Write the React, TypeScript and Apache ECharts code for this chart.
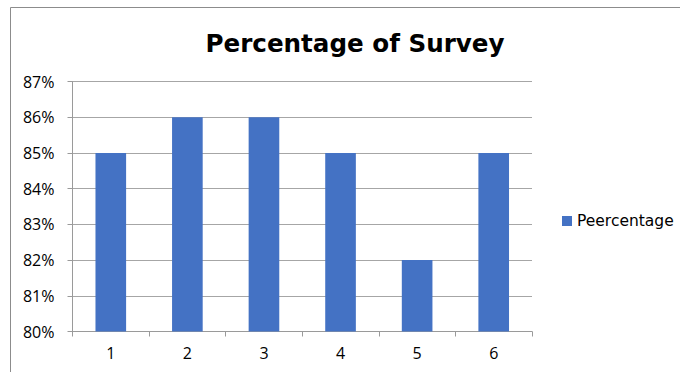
import React, { useEffect, useRef } from "react";
import * as echarts from "echarts";

const categories = ["1", "2", "3", "4", "5", "6"];
const seriesName = "Peercentage";
const percentValues = [85, 86, 86, 85, 82, 85];
const yTicks = { min: 80, max: 87, interval: 1 };
const titleText = "Percentage of Survey";

export default function App() {
  const ref = useRef<HTMLDivElement>(null);
  useEffect(() => {
    if (!ref.current) return;
    const chart = echarts.init(ref.current, null, { renderer: "svg" });
    chart.setOption({
      animation: false,
      backgroundColor: "#ffffff",
      title: {
        text: titleText,
        left: 350,
        top: 26,
        textAlign: "center",
        textStyle: {
          fontFamily: "DejaVu Sans",
          fontWeight: "bold",
          fontSize: 24.6,
          color: "#000000",
        },
      },
      graphic: [
        {
          type: "rect",
          shape: { x: 10.5, y: 7.5, width: 700, height: 400 },
          style: { fill: "none", stroke: "#8c8c8c", lineWidth: 1 },
          silent: true,
        },
      ],
      legend: {
        data: [seriesName],
        left: 557,
        top: 208,
        orient: "vertical",
        itemWidth: 10,
        itemHeight: 10,
        itemGap: 6,
        icon: "rect",
        textStyle: { fontFamily: "DejaVu Sans", fontSize: 15.5, color: "#000000", padding: [0, 0, 0, 0] },
      },
      grid: { left: 72.5, right: 148, top: 81.5, bottom: 40.5 },
      xAxis: {
        type: "category",
        data: categories,
        axisLine: { lineStyle: { color: "#9a9a9a" } },
        axisTick: { show: true, length: 5, lineStyle: { color: "#9a9a9a" } },
        axisLabel: { fontFamily: "Open Sans", fontSize: 16, color: "#000000", margin: 13 },
      },
      yAxis: {
        type: "value",
        min: yTicks.min,
        max: yTicks.max,
        interval: yTicks.interval,
        axisLine: { show: true, lineStyle: { color: "#9a9a9a" } },
        axisTick: { show: true, length: 5, lineStyle: { color: "#9a9a9a" } },
        splitLine: { lineStyle: { color: "#a6a6a6" } },
        axisLabel: {
          formatter: "{value}%",
          fontFamily: "Open Sans",
          fontSize: 16,
          color: "#000000",
          margin: 18,
        },
      },
      series: [
        {
          name: seriesName,
          type: "bar",
          data: percentValues,
          barWidth: "40%",
          itemStyle: { color: "#4472C4" },
        },
      ],
    });
    return () => chart.dispose();
  }, []);
  return (
    <div
      ref={ref}
      style={{ position: "fixed", left: 0, top: 0, width: 680, height: 372 }}
    />
  );
}
